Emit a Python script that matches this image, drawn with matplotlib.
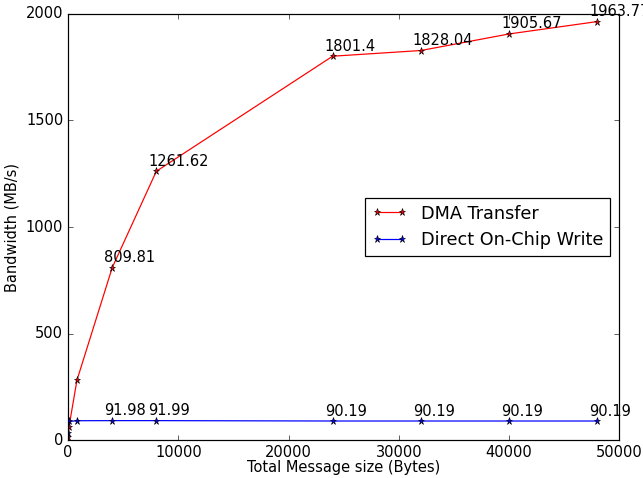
import matplotlib
matplotlib.use('Agg')
import matplotlib.pyplot as plt

plt.style.use('classic')

# message sizes (bytes) and measured bandwidth (MB/s)
msg_size = [16, 64, 800, 4000, 8000, 24000, 32000, 40000, 48000]
dma_bw = [15, 60, 282, 809.81, 1261.62, 1801.4, 1828.04, 1905.67, 1963.77]
direct_bw = [33, 88, 91.5, 91.98, 91.99, 90.19, 90.19, 90.19, 90.19]

# only the larger messages get a value label
label_from = 3

DPI = 88
fig = plt.figure(figsize=(643.0 / DPI, 478.0 / DPI), dpi=DPI)
ax = fig.add_axes([0.106, 0.079, 0.857, 0.892])

ax.plot(msg_size, dma_bw, 'r*-', label='DMA Transfer')
ax.plot(msg_size, direct_bw, 'b*-', label='Direct On-Chip Write')

for x, y in zip(msg_size[label_from:], dma_bw[label_from:]):
    ax.annotate(str(y), (x, y), xytext=(-6.5, 4.5), textcoords='offset points',
                annotation_clip=False)
for x, y in zip(msg_size[label_from:], direct_bw[label_from:]):
    ax.annotate(str(y), (x, y), xytext=(-6.5, 4.5), textcoords='offset points',
                annotation_clip=False)

ax.set_xlim(0, 50000)
ax.set_ylim(0, 2000)
ax.set_xlabel('Total Message size (Bytes)', labelpad=0)
ax.set_ylabel('Bandwidth (MB/s)')
ax.legend(loc='center right')

fig.savefig('out.png', dpi=DPI)
